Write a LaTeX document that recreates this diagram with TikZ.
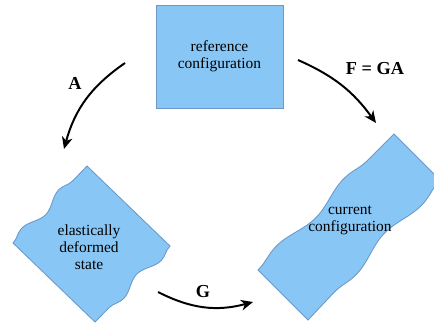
\documentclass[tikz,border=0pt]{standalone}
\usepackage{fontspec}
\setmainfont{LiberationSerif}[Extension=.ttf,UprightFont=*-Regular,BoldFont=*-Bold,ItalicFont=*-Italic,BoldItalicFont=*-BoldItalic]
\usetikzlibrary{arrows.meta,decorations.pathmorphing,positioning}
\definecolor{cfgfill}{HTML}{88C6F5}
\definecolor{cfgline}{HTML}{6C97C6}

\begin{document}
\begin{tikzpicture}[x=0.025cm,y=-0.025cm,
    cfgbox/.style={draw=cfgline,fill=cfgfill,line width=0.6pt},
    cfgtext/.style={align=center,font=\fontsize{11}{12.3}\selectfont},
    maplabel/.style={font=\fontsize{13}{15}\selectfont\bfseries},
    maparrow/.style={line width=1.4pt,-{Stealth[length=8.5pt,width=7.5pt,inset=2.5pt]}},
    wavy/.style={decoration={snake,amplitude=2.8pt,segment length=#1}}]
    % Fix the page to the picture size
    \useasboundingbox (0,0) rectangle (434,324);
    % Reference configuration (plain box)
    \node[cfgbox,cfgtext,minimum width=3.175cm,minimum height=2.575cm] (ref) at (219.5,56.5) {reference\\configuration};
    % Elastically deformed state (two wavy sides)
    \filldraw[cfgbox] (13,243) decorate[wavy=37.9pt]{-- (87,166)} -- (170,246)
        decorate[wavy=37.9pt]{-- (95,322)} -- cycle;
    \node[cfgtext] (elastic) at (89,247) {elastically\\deformed\\state};
    % Current configuration (long wavy sides)
    \filldraw[cfgbox] (258,270) decorate[wavy=68pt]{-- (394,134)} -- (440,180)
        decorate[wavy=68pt]{-- (308,320)} -- cycle;
    \node[cfgtext] (current) at (350,220) {current\\configuration};
    % Arrow ends
    \coordinate (A-from) at (125,63);
    \coordinate (A-to) at (64,149);
    \coordinate (F-from) at (298,60);
    \coordinate (F-to) at (376,123);
    \coordinate (G-from) at (158,292);
    \coordinate (G-to) at (253,302);
    % Maps between the configurations
    \draw[maparrow] (A-from) to[bend right=20] (A-to);
    \draw[maparrow] (F-from) to[bend left=15] (F-to);
    \draw[maparrow] (G-from) to[bend right=21] (G-to);
    % Labels of the maps
    \node[maplabel] (A) at (75,83) {A};
    \node[maplabel] (F) at (375,69) {F = GA};
    \node[maplabel] (G) at (203,292) {G};
\end{tikzpicture}
\end{document}
